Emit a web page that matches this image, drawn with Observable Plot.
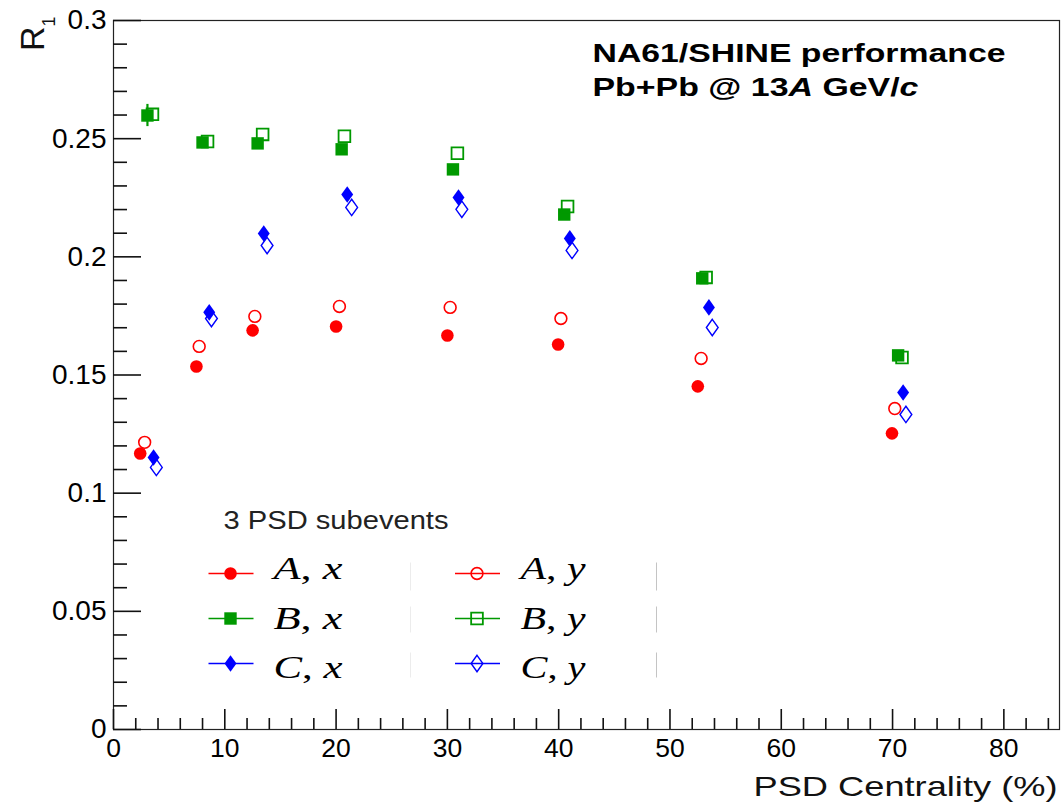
<!DOCTYPE html>
<html>
<head>
<meta charset="utf-8">
<script src="https://cdn.jsdelivr.net/npm/d3@7"></script>
<script src="https://cdn.jsdelivr.net/npm/@observablehq/plot@0.6"></script>
<style>
  html, body { margin: 0; padding: 0; background: #fff; }
  #chart { width: 1062px; height: 809px; }
</style>
</head>
<body>
<div id="chart"></div>
<script>
// ---------------- data ----------------
const seriesNames = ["A, x", "A, y", "B, x", "B, y", "C, x", "C, y"];
const seriesColors = ["#ff0000", "#ff0000", "#009900", "#009900", "#0000ff", "#0000ff"];

const xAx = [2.4, 7.45, 12.5, 20.0, 30.0, 39.95, 52.5, 69.95];
const yAx = [0.1168, 0.1536, 0.1689, 0.1705, 0.1667, 0.1629, 0.1452, 0.1253];
const xAy = [2.8, 7.7, 12.7, 20.3, 30.25, 40.2, 52.8, 70.2];
const yAy = [0.1215, 0.1621, 0.1748, 0.1790, 0.1786, 0.1739, 0.1570, 0.1358];
const xBx = [3.05, 8.0, 12.95, 20.5, 30.5, 40.5, 52.9, 70.5];
const yBx = [0.2598, 0.2484, 0.2480, 0.2455, 0.2370, 0.2179, 0.1909, 0.1583];
const eBx = [0.0047, 0.001, 0.001, 0.001, 0.001, 0.001, 0.001, 0.001];
const xBy = [3.5, 8.45, 13.4, 20.75, 30.9, 40.8, 53.25, 70.85];
const yBy = [0.2603, 0.2488, 0.2518, 0.2510, 0.2438, 0.2213, 0.1913, 0.1574];
const xCx = [3.6, 8.6, 13.5, 21.0, 31.0, 41.0, 53.5, 70.95];
const yCx = [0.1151, 0.1765, 0.2099, 0.2264, 0.2251, 0.2078, 0.1786, 0.1426];
const xCy = [3.85, 8.8, 13.8, 21.4, 31.3, 41.2, 53.8, 71.2];
const yCy = [0.1109, 0.1739, 0.2048, 0.2209, 0.2201, 0.2027, 0.1701, 0.1333];

const xMajor = [0, 10, 20, 30, 40, 50, 60, 70, 80];
const xLabels = ["0", "10", "20", "30", "40", "50", "60", "70", "80"];
const yMajor = [0, 0.05, 0.1, 0.15, 0.2, 0.25, 0.3];
const yLabels = ["0", "0.05", "0.1", "0.15", "0.2", "0.25", "0.3"];

const xTitle = "PSD Centrality (%)";
const yTitle = "R1";
const titleLine1 = "NA61/SHINE performance";
const titleLine2 = "Pb+Pb @ 13A GeV/c";
const legendTitle = "3 PSD subevents";

// ---------------- layout ----------------
const W = 1062, H = 809, ML = 113, MR = 3, MT = 20, MB = 80;
const PW = W - ML - MR, PH = H - MT - MB;
const xMinor = d3.range(0, 85, 2).filter(v => v % 10 !== 0);
const yMinor = d3.range(1, 30).filter(v => v % 5 !== 0).map(v => v / 100);

// custom symbols
const diamond = (ratio) => ({
  draw(ctx, size) {
    const h = Math.sqrt(size / Math.PI), w = h * ratio;
    ctx.moveTo(0, -h); ctx.lineTo(w, 0); ctx.lineTo(0, h); ctx.lineTo(-w, 0); ctx.closePath();
  }
});
const hline = (len) => ({ draw(ctx) { ctx.moveTo(-len / 2, 0); ctx.lineTo(len / 2, 0); } });
const vline = (len) => ({ draw(ctx) { ctx.moveTo(0, -len / 2); ctx.lineTo(0, len / 2); } });

const markerStyles = [
  {symbol: "circle", r: 6.3, filled: true},
  {symbol: "circle", r: 5.9, filled: false, sw: 1.6},
  {symbol: "square", r: 7.0, filled: true},
  {symbol: "square", r: 6.6, filled: false, sw: 1.8},
  {symbol: diamond(0.72), r: 8.3, filled: true},
  {symbol: diamond(0.72), r: 8.2, filled: false, sw: 1.4}
];

const xs = [xAx, xAy, xBx, xBy, xCx, xCy];
const ys = [yAx, yAy, yBx, yBy, yCx, yCy];

function pts(i) {
  return xs[i].map((x, j) => ({x, y: ys[i][j]}));
}
function markerMark(data, i, extra) {
  const m = markerStyles[i];
  const c = seriesColors[i];
  return Plot.dot(data, Object.assign({
    symbol: m.symbol, r: m.r,
    fill: m.filled ? c : "none",
    stroke: m.filled ? "none" : c,
    strokeWidth: m.sw || 1
  }, extra));
}
const at = (x, y) => ({frameAnchor: "top-left", dx: x - ML, dy: y - MT});

// ---------------- marks ----------------
const marks = [];
marks.push(Plot.frame({stroke: "#222", strokeWidth: 1.2}));
marks.push(Plot.tickY(yMajor, {y: d => d, insetRight: PW - 28, stroke: "#111", strokeWidth: 1.6}));
marks.push(Plot.tickY(yMinor, {y: d => d, insetRight: PW - 14, stroke: "#111", strokeWidth: 1.6}));
marks.push(Plot.tickX(xMajor, {x: d => d, insetTop: PH - 20, stroke: "#111", strokeWidth: 1.6}));
marks.push(Plot.tickX(xMinor, {x: d => d, insetTop: PH - 11, stroke: "#111", strokeWidth: 1.6}));
marks.push(Plot.axisY({ticks: yMajor, tickSize: 0, tickPadding: 7, fontSize: 28, label: null,
  tickFormat: d => yLabels[yMajor.indexOf(d)], fontFamily: "Liberation Sans"}));
marks.push(Plot.axisX({ticks: xMajor, tickSize: 0, tickPadding: 9, fontSize: 26.5, label: null,
  tickFormat: d => xLabels[xMajor.indexOf(d)], fontFamily: "Liberation Sans"}));
marks.push(Plot.ruleX(xBx.map((x, j) => ({x, y1: yBx[j] - eBx[j], y2: yBx[j] + eBx[j]})),
  {x: "x", y1: "y1", y2: "y2", stroke: seriesColors[2], strokeWidth: 2.2}));
for (let i = 0; i < 6; i++) marks.push(markerMark(pts(i), i, {x: "x", y: "y"}));

marks.push(Plot.text([xTitle], {text: d => d, frameAnchor: "bottom-right", dx: -2, dy: 66,
  textAnchor: "end", lineAnchor: "bottom", fontSize: 28, fontFamily: "Liberation Sans", fill: "#111"}));
marks.push(Plot.text([yTitle], {text: d => d, ...at(43, 16), rotate: -90,
  textAnchor: "end", lineAnchor: "bottom", fontSize: 34, fontFamily: "Liberation Sans", fill: "#111"}));
marks.push(Plot.text([titleLine1], {text: d => d, ...at(592, 61), textAnchor: "start", lineAnchor: "bottom",
  fontSize: 26, fontWeight: "bold", fontFamily: "Liberation Sans", fill: "#000"}));
marks.push(Plot.text([titleLine2], {text: d => d, ...at(592, 95), textAnchor: "start", lineAnchor: "bottom",
  fontSize: 26, fontWeight: "bold", fontFamily: "Liberation Sans", fill: "#000"}));

marks.push(Plot.text([legendTitle], {text: d => d, ...at(223, 528), textAnchor: "start", lineAnchor: "bottom",
  fontSize: 25, fontFamily: "Liberation Sans", fill: "#222"}));
const rowY = [573, 618, 663];
const labelY = [578, 628, 677];
const colLine = [230.5, 477];
const colLabel = [273, 520];
for (let i = 0; i < 6; i++) {
  const row = Math.floor(i / 2), col = i % 2;
  marks.push(Plot.dot([0], {...at(colLine[col], rowY[row]), symbol: hline(45), r: 1,
    fill: "none", stroke: seriesColors[i], strokeWidth: 1.6}));
  marks.push(markerMark([0], i, at(colLine[col] - 0.5, rowY[row])));
  marks.push(Plot.text([seriesNames[i]], {text: d => d, ...at(colLabel[col], labelY[row]),
    textAnchor: "start", lineAnchor: "bottom", fontSize: 31, fontFamily: "Liberation Serif", fill: "#000"}));
}
const sepRows = [[576, 28], [619, 26], [664.5, 25]];
for (const [cy, len] of sepRows) {
  marks.push(Plot.dot([0], {...at(410, cy), symbol: vline(len), r: 1, stroke: "#ececec", strokeWidth: 1}));
  marks.push(Plot.dot([0], {...at(656, cy), symbol: vline(len), r: 1, stroke: "#c4c4c4", strokeWidth: 1}));
}

const svg = Plot.plot({
  width: W, height: H,
  marginLeft: ML, marginRight: MR, marginTop: MT, marginBottom: MB,
  x: {domain: [0, 85]},
  y: {domain: [0, 0.3]},
  style: {background: "#fff", color: "#000", fontFamily: "Liberation Sans, Arial, sans-serif", overflow: "visible"},
  marks
});
document.getElementById("chart").appendChild(svg);

// ---------------- rich text ----------------
const NS = "http://www.w3.org/2000/svg";
function rich(el, parts) {
  while (el.firstChild) el.removeChild(el.firstChild);
  for (const p of parts) {
    const t = document.createElementNS(NS, "tspan");
    t.textContent = p.t;
    if (p.i) t.setAttribute("font-style", "italic");
    if (p.fs) t.setAttribute("font-size", p.fs);
    if (p.dy) t.setAttribute("dy", p.dy);
    el.appendChild(t);
  }
}
function stretch(el, w) {
  el.setAttribute("textLength", w);
  el.setAttribute("lengthAdjust", "spacingAndGlyphs");
}
svg.querySelectorAll("text").forEach(el => {
  const s = el.textContent;
  if (s === titleLine1) stretch(el, 413);
  else if (s === titleLine2) {
    rich(el, [{t: "Pb+Pb @ 13"}, {t: "A", i: true}, {t: " GeV/"}, {t: "c", i: true}]);
    stretch(el, 326);
  } else if (s === xTitle) stretch(el, 304);
  else if (s === legendTitle) stretch(el, 225);
  else if (s === yTitle) {
    rich(el, [{t: "R"}, {t: "1", fs: "18px", dy: "11"}]);
  } else if (seriesNames.includes(s)) {
    const [a, b] = s.split(", ");
    rich(el, [{t: a, i: true}, {t: ", "}, {t: b, i: true}]);
    stretch(el, b === "x" ? 69 : 65);
  }
});
</script>
</body>
</html>
